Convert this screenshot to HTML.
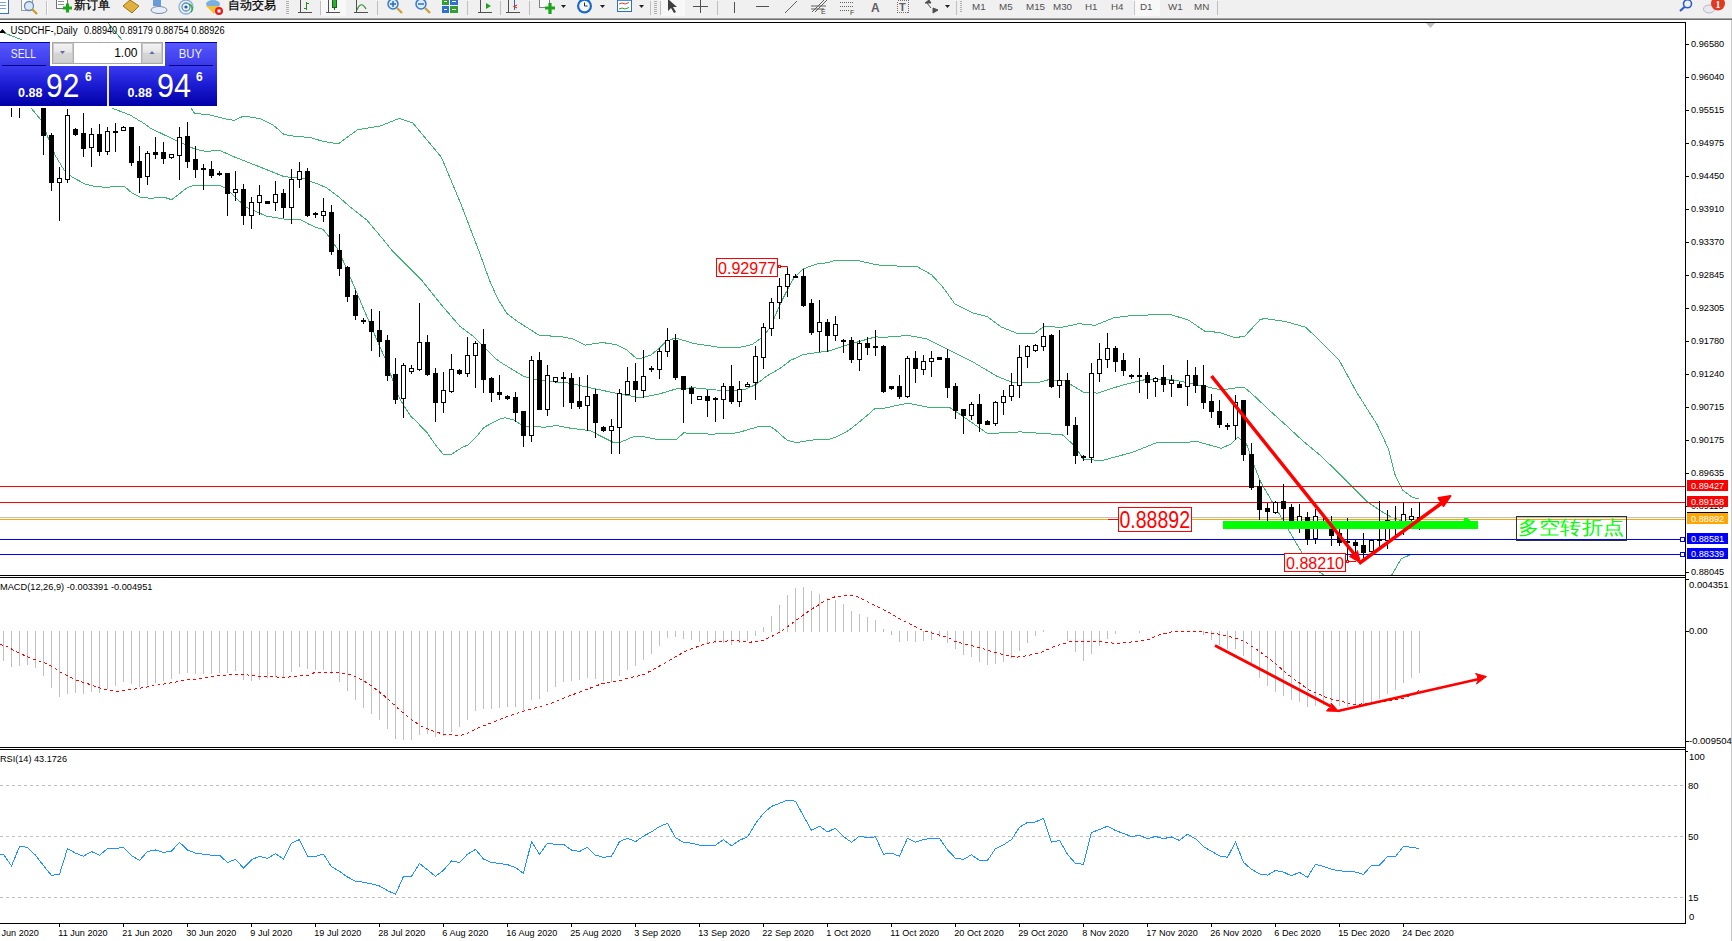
<!DOCTYPE html>
<html><head><meta charset="utf-8"><style>
html,body{margin:0;padding:0;background:#fff;width:1732px;height:941px;overflow:hidden;font-family:"Liberation Sans",sans-serif}
#tb{position:absolute;left:0;top:0;width:1732px;height:18px;background:#f0f0f0;border-bottom:1px solid #a4a4a4}
#tb2{position:absolute;left:0;top:19px;width:1732px;height:1px;background:#6d6d6d}
svg{position:absolute;left:0;top:0}
#panel{position:absolute;left:0;top:42px;width:217px;height:64px}
</style></head><body>
<svg width="1732" height="941" viewBox="0 0 1732 941">
<defs><clipPath id="cm"><rect x="0" y="23" width="1685" height="552"/></clipPath><clipPath id="cd"><rect x="0" y="578" width="1685" height="169"/></clipPath><clipPath id="cr"><rect x="0" y="750" width="1685" height="173"/></clipPath></defs>
<g clip-path="url(#cm)">
<polyline points="98.0,12.0 108.0,23.0 122.0,40.0 191.0,108.0 194.6,113.4 209.5,114.9 227.4,119.3 234.0,120.4 243.8,116.0 260.0,118.6 273.5,125.3 284.0,134.5 294.3,136.2 310.0,137.5 323.0,141.3 338.2,144.0 357.4,129.8 380.3,126.0 399.4,118.4 412.8,123.0 441.5,157.4 460.6,203.3 479.7,253.0 489.3,280.0 495.0,292.8 498.5,300.0 507.0,313.6 517.2,321.3 539.3,335.4 561.4,336.6 573.3,339.1 585.2,345.1 602.2,342.5 615.9,344.6 626.0,349.3 636.3,358.3 640.0,358.3 643.4,357.7 650.8,355.1 658.3,349.1 665.7,342.0 673.2,338.7 679.1,339.0 694.0,343.5 719.3,347.3 740.1,347.3 752.0,344.6 759.5,339.4 769.9,328.3 780.0,304.5 786.5,291.6 794.2,277.3 803.7,268.7 817.1,263.9 828.6,262.6 836.2,260.0 855.4,260.0 872.6,263.9 880.0,265.2 894.0,265.9 917.4,266.8 931.4,274.6 943.1,287.4 954.8,303.8 973.5,313.1 987.6,316.7 1001.6,327.2 1018.0,333.7 1034.4,333.7 1043.7,326.7 1062.4,327.2 1078.8,323.7 1095.2,325.3 1113.9,317.8 1132.6,315.5 1170.0,314.3 1188.7,320.2 1205.0,331.4 1219.1,332.3 1235.5,337.7 1244.8,336.1 1260.0,319.7 1264.4,318.5 1285.2,321.4 1306.0,327.4 1338.8,359.5 1356.7,392.3 1377.1,424.6 1388.3,448.6 1394.7,474.0 1402.6,490.0 1412.2,497.2 1418.6,498.8" fill="none" stroke="#3cb371" stroke-width="1" shape-rendering="crispEdges"/>
<polyline points="0.0,31.5 4.8,33.2 20.8,39.4 60.0,75.0 111.6,108.0 130.0,115.0 145.0,124.0 150.0,128.0 173.8,139.4 194.6,149.0 205.0,151.3 220.0,150.6 233.3,156.5 254.2,164.7 284.0,176.6 304.8,178.9 309.0,180.8 319.3,184.5 326.8,188.0 337.2,195.7 350.6,207.3 367.0,220.2 383.3,239.6 392.2,250.7 421.5,280.0 440.6,303.9 459.8,326.2 472.5,335.8 486.9,350.1 495.0,358.1 500.2,362.1 524.0,376.5 534.2,379.1 546.1,381.3 571.6,383.3 585.2,386.7 615.9,393.2 640.0,397.8 659.8,393.8 677.6,388.5 694.0,387.8 716.3,390.0 734.2,390.5 746.1,389.0 756.5,384.1 766.9,375.9 780.0,368.5 790.3,360.5 803.7,354.4 828.6,351.0 847.7,344.8 876.4,336.6 880.0,337.7 908.0,335.4 926.8,338.9 947.8,349.4 973.5,362.3 996.9,376.3 1013.3,382.8 1036.7,382.8 1048.4,379.8 1064.8,381.0 1083.5,392.2 1097.5,393.1 1120.9,385.6 1144.3,379.8 1170.0,379.1 1195.7,384.5 1221.4,389.9 1235.5,388.0 1244.8,387.7 1254.3,396.0 1270.3,411.1 1286.2,425.4 1302.2,440.3 1319.7,454.9 1335.7,470.1 1351.6,486.0 1367.6,502.0 1380.3,510.7 1391.5,517.1 1419.0,527.0" fill="none" stroke="#3cb371" stroke-width="1" shape-rendering="crispEdges"/>
<polyline points="0.0,70.0 31.0,108.0 41.0,120.0 55.0,155.0 64.0,170.0 72.0,177.0 85.0,184.0 93.0,186.0 107.0,187.6 115.0,186.0 125.0,187.0 132.0,193.0 140.0,197.0 150.0,198.2 164.9,197.5 171.6,199.7 187.2,187.8 194.6,185.1 220.0,185.6 227.4,189.3 245.2,206.8 266.0,216.0 284.0,219.0 300.3,219.8 310.0,224.7 316.4,227.7 323.0,229.2 328.3,235.9 338.7,250.7 344.6,264.1 351.4,280.0 368.9,321.4 384.9,358.1 397.9,395.1 403.6,405.4 411.3,416.9 415.1,420.2 427.5,433.2 435.2,444.6 443.3,454.4 451.5,454.4 462.0,447.5 467.7,445.1 475.4,437.9 484.0,427.4 494.5,421.7 499.3,419.3 505.0,417.8 513.8,419.9 524.0,426.7 534.2,426.7 544.4,427.2 556.3,425.5 571.6,428.4 590.3,430.6 600.5,436.0 612.4,442.0 621.0,442.0 632.9,436.9 640.0,436.0 659.8,439.9 676.1,439.9 683.6,432.9 711.8,434.2 737.1,432.9 758.0,426.8 770.0,426.5 774.5,429.2 787.3,440.4 796.3,442.5 815.0,439.7 828.6,439.5 835.3,437.4 845.1,432.6 850.3,429.2 863.8,418.3 875.1,408.4 880.0,409.0 908.0,403.2 931.4,407.9 950.2,407.9 964.2,417.2 987.6,433.6 1020.3,431.9 1062.4,434.8 1074.1,445.3 1083.5,459.3 1102.2,460.5 1132.6,452.3 1156.0,442.9 1198.0,441.8 1221.4,448.3 1230.8,444.1 1237.8,437.1 1246.4,443.8 1254.3,466.1 1260.7,482.0 1271.9,501.2 1283.0,520.3 1302.0,553.0 1318.0,571.0 1322.5,574.0 1325.0,577.0" fill="none" stroke="#3cb371" stroke-width="1" shape-rendering="crispEdges"/>
<polyline points="1391.2,576.0 1401.3,558.7 1411.0,554.5" fill="none" stroke="#3cb371" stroke-width="1" shape-rendering="crispEdges"/>
<g shape-rendering="crispEdges">
<rect x="0" y="486" width="1685" height="1" fill="#ff0000"/>
<rect x="0" y="502" width="1685" height="1" fill="#ff0000"/>
<rect x="0" y="517" width="1685" height="1" fill="#c0c0c0"/>
<rect x="0" y="519" width="1685" height="1" fill="#ffa500"/>
<rect x="0" y="539" width="1685" height="1" fill="#0000ff"/>
<rect x="0" y="554" width="1685" height="1" fill="#0000ff"/>
<rect x="1680.5" y="537.5" width="4" height="4" fill="#fff" stroke="#0000ff" stroke-width="1"/>
<rect x="1680.5" y="552.5" width="4" height="4" fill="#fff" stroke="#0000ff" stroke-width="1"/>
</g>
<g shape-rendering="crispEdges">
<rect x="11" y="80" width="1" height="37" fill="#000"/>
<rect x="9" y="80" width="5" height="6" fill="#000"/>
<rect x="19" y="80" width="1" height="38" fill="#000"/>
<rect x="17" y="80" width="5" height="6" fill="#000"/>
<rect x="43" y="100" width="1" height="55" fill="#000"/>
<rect x="41" y="100" width="5" height="36" fill="#000"/>
<rect x="51" y="133" width="1" height="58" fill="#000"/>
<rect x="49" y="135" width="5" height="48" fill="#000"/>
<rect x="59" y="167" width="1" height="54" fill="#000"/>
<rect x="57" y="178" width="5" height="5" fill="#000"/>
<rect x="58" y="179" width="3" height="3" fill="#fff"/>
<rect x="67" y="109" width="1" height="74" fill="#000"/>
<rect x="65" y="115" width="5" height="65" fill="#000"/>
<rect x="66" y="116" width="3" height="63" fill="#fff"/>
<rect x="75" y="128" width="1" height="8" fill="#000"/>
<rect x="73" y="129" width="5" height="6" fill="#000"/>
<rect x="83" y="113" width="1" height="44" fill="#000"/>
<rect x="81" y="133" width="5" height="16" fill="#000"/>
<rect x="91" y="128" width="1" height="39" fill="#000"/>
<rect x="89" y="134" width="5" height="14" fill="#000"/>
<rect x="90" y="135" width="3" height="12" fill="#fff"/>
<rect x="99" y="124" width="1" height="32" fill="#000"/>
<rect x="97" y="134" width="5" height="18" fill="#000"/>
<rect x="107" y="127" width="1" height="28" fill="#000"/>
<rect x="105" y="131" width="5" height="21" fill="#000"/>
<rect x="106" y="132" width="3" height="19" fill="#fff"/>
<rect x="115" y="123" width="1" height="29" fill="#000"/>
<rect x="113" y="131" width="5" height="2" fill="#000"/>
<rect x="123" y="126" width="1" height="5" fill="#000"/>
<rect x="121" y="127" width="5" height="4" fill="#000"/>
<rect x="122" y="128" width="3" height="2" fill="#fff"/>
<rect x="131" y="127" width="1" height="39" fill="#000"/>
<rect x="129" y="127" width="5" height="36" fill="#000"/>
<rect x="139" y="146" width="1" height="47" fill="#000"/>
<rect x="137" y="161" width="5" height="17" fill="#000"/>
<rect x="147" y="151" width="1" height="34" fill="#000"/>
<rect x="145" y="153" width="5" height="24" fill="#000"/>
<rect x="146" y="154" width="3" height="22" fill="#fff"/>
<rect x="155" y="137" width="1" height="22" fill="#000"/>
<rect x="153" y="152" width="5" height="3" fill="#000"/>
<rect x="163" y="142" width="1" height="22" fill="#000"/>
<rect x="161" y="152" width="5" height="7" fill="#000"/>
<rect x="171" y="154" width="1" height="5" fill="#000"/>
<rect x="169" y="154" width="5" height="4" fill="#000"/>
<rect x="170" y="155" width="3" height="2" fill="#fff"/>
<rect x="179" y="127" width="1" height="53" fill="#000"/>
<rect x="177" y="137" width="5" height="19" fill="#000"/>
<rect x="178" y="138" width="3" height="17" fill="#fff"/>
<rect x="187" y="122" width="1" height="46" fill="#000"/>
<rect x="185" y="136" width="5" height="26" fill="#000"/>
<rect x="195" y="146" width="1" height="32" fill="#000"/>
<rect x="193" y="159" width="5" height="11" fill="#000"/>
<rect x="203" y="164" width="1" height="26" fill="#000"/>
<rect x="201" y="168" width="5" height="2" fill="#000"/>
<rect x="211" y="161" width="1" height="17" fill="#000"/>
<rect x="209" y="169" width="5" height="7" fill="#000"/>
<rect x="219" y="171" width="1" height="5" fill="#000"/>
<rect x="217" y="173" width="5" height="2" fill="#000"/>
<rect x="227" y="173" width="1" height="43" fill="#000"/>
<rect x="225" y="173" width="5" height="21" fill="#000"/>
<rect x="235" y="171" width="1" height="30" fill="#000"/>
<rect x="233" y="189" width="5" height="4" fill="#000"/>
<rect x="234" y="190" width="3" height="2" fill="#fff"/>
<rect x="243" y="184" width="1" height="41" fill="#000"/>
<rect x="241" y="189" width="5" height="27" fill="#000"/>
<rect x="251" y="197" width="1" height="32" fill="#000"/>
<rect x="249" y="202" width="5" height="14" fill="#000"/>
<rect x="250" y="203" width="3" height="12" fill="#fff"/>
<rect x="259" y="185" width="1" height="30" fill="#000"/>
<rect x="257" y="195" width="5" height="8" fill="#000"/>
<rect x="258" y="196" width="3" height="6" fill="#fff"/>
<rect x="267" y="201" width="1" height="3" fill="#000"/>
<rect x="265" y="201" width="5" height="3" fill="#000"/>
<rect x="275" y="181" width="1" height="30" fill="#000"/>
<rect x="273" y="194" width="5" height="9" fill="#000"/>
<rect x="274" y="195" width="3" height="7" fill="#fff"/>
<rect x="283" y="189" width="1" height="29" fill="#000"/>
<rect x="281" y="193" width="5" height="15" fill="#000"/>
<rect x="291" y="169" width="1" height="55" fill="#000"/>
<rect x="289" y="179" width="5" height="29" fill="#000"/>
<rect x="290" y="180" width="3" height="27" fill="#fff"/>
<rect x="299" y="162" width="1" height="26" fill="#000"/>
<rect x="297" y="171" width="5" height="9" fill="#000"/>
<rect x="298" y="172" width="3" height="7" fill="#fff"/>
<rect x="307" y="168" width="1" height="49" fill="#000"/>
<rect x="305" y="171" width="5" height="45" fill="#000"/>
<rect x="315" y="212" width="1" height="6" fill="#000"/>
<rect x="313" y="213" width="5" height="2" fill="#000"/>
<rect x="323" y="198" width="1" height="24" fill="#000"/>
<rect x="321" y="211" width="5" height="5" fill="#000"/>
<rect x="322" y="212" width="3" height="3" fill="#fff"/>
<rect x="331" y="205" width="1" height="50" fill="#000"/>
<rect x="329" y="212" width="5" height="40" fill="#000"/>
<rect x="339" y="234" width="1" height="42" fill="#000"/>
<rect x="337" y="250" width="5" height="19" fill="#000"/>
<rect x="347" y="266" width="1" height="36" fill="#000"/>
<rect x="345" y="267" width="5" height="30" fill="#000"/>
<rect x="355" y="290" width="1" height="30" fill="#000"/>
<rect x="353" y="295" width="5" height="21" fill="#000"/>
<rect x="363" y="318" width="1" height="6" fill="#000"/>
<rect x="361" y="320" width="5" height="2" fill="#000"/>
<rect x="371" y="309" width="1" height="42" fill="#000"/>
<rect x="369" y="321" width="5" height="11" fill="#000"/>
<rect x="379" y="311" width="1" height="46" fill="#000"/>
<rect x="377" y="330" width="5" height="12" fill="#000"/>
<rect x="387" y="335" width="1" height="46" fill="#000"/>
<rect x="385" y="340" width="5" height="36" fill="#000"/>
<rect x="395" y="358" width="1" height="46" fill="#000"/>
<rect x="393" y="374" width="5" height="26" fill="#000"/>
<rect x="403" y="363" width="1" height="55" fill="#000"/>
<rect x="401" y="365" width="5" height="34" fill="#000"/>
<rect x="402" y="366" width="3" height="32" fill="#fff"/>
<rect x="411" y="365" width="1" height="9" fill="#000"/>
<rect x="409" y="368" width="5" height="4" fill="#000"/>
<rect x="410" y="369" width="3" height="2" fill="#fff"/>
<rect x="419" y="303" width="1" height="68" fill="#000"/>
<rect x="417" y="342" width="5" height="28" fill="#000"/>
<rect x="418" y="343" width="3" height="26" fill="#fff"/>
<rect x="427" y="335" width="1" height="41" fill="#000"/>
<rect x="425" y="342" width="5" height="33" fill="#000"/>
<rect x="435" y="368" width="1" height="54" fill="#000"/>
<rect x="433" y="373" width="5" height="30" fill="#000"/>
<rect x="443" y="372" width="1" height="41" fill="#000"/>
<rect x="441" y="390" width="5" height="13" fill="#000"/>
<rect x="442" y="391" width="3" height="11" fill="#fff"/>
<rect x="451" y="354" width="1" height="39" fill="#000"/>
<rect x="449" y="369" width="5" height="23" fill="#000"/>
<rect x="450" y="370" width="3" height="21" fill="#fff"/>
<rect x="459" y="369" width="1" height="6" fill="#000"/>
<rect x="457" y="370" width="5" height="4" fill="#000"/>
<rect x="467" y="337" width="1" height="40" fill="#000"/>
<rect x="465" y="355" width="5" height="19" fill="#000"/>
<rect x="466" y="356" width="3" height="17" fill="#fff"/>
<rect x="475" y="341" width="1" height="47" fill="#000"/>
<rect x="473" y="343" width="5" height="13" fill="#000"/>
<rect x="474" y="344" width="3" height="11" fill="#fff"/>
<rect x="483" y="329" width="1" height="64" fill="#000"/>
<rect x="481" y="344" width="5" height="36" fill="#000"/>
<rect x="491" y="377" width="1" height="25" fill="#000"/>
<rect x="489" y="378" width="5" height="15" fill="#000"/>
<rect x="499" y="375" width="1" height="25" fill="#000"/>
<rect x="497" y="392" width="5" height="3" fill="#000"/>
<rect x="507" y="395" width="1" height="5" fill="#000"/>
<rect x="505" y="396" width="5" height="3" fill="#000"/>
<rect x="515" y="392" width="1" height="30" fill="#000"/>
<rect x="513" y="397" width="5" height="16" fill="#000"/>
<rect x="523" y="411" width="1" height="36" fill="#000"/>
<rect x="521" y="411" width="5" height="25" fill="#000"/>
<rect x="531" y="356" width="1" height="86" fill="#000"/>
<rect x="529" y="360" width="5" height="76" fill="#000"/>
<rect x="530" y="361" width="3" height="74" fill="#fff"/>
<rect x="539" y="352" width="1" height="58" fill="#000"/>
<rect x="537" y="360" width="5" height="50" fill="#000"/>
<rect x="547" y="365" width="1" height="51" fill="#000"/>
<rect x="545" y="375" width="5" height="35" fill="#000"/>
<rect x="546" y="376" width="3" height="33" fill="#fff"/>
<rect x="555" y="377" width="1" height="6" fill="#000"/>
<rect x="553" y="377" width="5" height="5" fill="#000"/>
<rect x="554" y="378" width="3" height="3" fill="#fff"/>
<rect x="563" y="372" width="1" height="35" fill="#000"/>
<rect x="561" y="377" width="5" height="2" fill="#000"/>
<rect x="571" y="373" width="1" height="36" fill="#000"/>
<rect x="569" y="378" width="5" height="25" fill="#000"/>
<rect x="579" y="377" width="1" height="32" fill="#000"/>
<rect x="577" y="401" width="5" height="6" fill="#000"/>
<rect x="587" y="375" width="1" height="56" fill="#000"/>
<rect x="585" y="396" width="5" height="10" fill="#000"/>
<rect x="586" y="397" width="3" height="8" fill="#fff"/>
<rect x="595" y="389" width="1" height="49" fill="#000"/>
<rect x="593" y="394" width="5" height="29" fill="#000"/>
<rect x="603" y="426" width="1" height="6" fill="#000"/>
<rect x="601" y="427" width="5" height="4" fill="#000"/>
<rect x="611" y="419" width="1" height="35" fill="#000"/>
<rect x="609" y="426" width="5" height="5" fill="#000"/>
<rect x="610" y="427" width="3" height="3" fill="#fff"/>
<rect x="619" y="389" width="1" height="65" fill="#000"/>
<rect x="617" y="393" width="5" height="35" fill="#000"/>
<rect x="618" y="394" width="3" height="33" fill="#fff"/>
<rect x="627" y="367" width="1" height="28" fill="#000"/>
<rect x="625" y="381" width="5" height="14" fill="#000"/>
<rect x="626" y="382" width="3" height="12" fill="#fff"/>
<rect x="635" y="363" width="1" height="39" fill="#000"/>
<rect x="633" y="381" width="5" height="9" fill="#000"/>
<rect x="643" y="350" width="1" height="48" fill="#000"/>
<rect x="641" y="376" width="5" height="15" fill="#000"/>
<rect x="642" y="377" width="3" height="13" fill="#fff"/>
<rect x="651" y="366" width="1" height="6" fill="#000"/>
<rect x="649" y="368" width="5" height="2" fill="#000"/>
<rect x="659" y="348" width="1" height="31" fill="#000"/>
<rect x="657" y="351" width="5" height="19" fill="#000"/>
<rect x="658" y="352" width="3" height="17" fill="#fff"/>
<rect x="667" y="328" width="1" height="29" fill="#000"/>
<rect x="665" y="340" width="5" height="12" fill="#000"/>
<rect x="666" y="341" width="3" height="10" fill="#fff"/>
<rect x="675" y="334" width="1" height="46" fill="#000"/>
<rect x="673" y="340" width="5" height="38" fill="#000"/>
<rect x="683" y="376" width="1" height="47" fill="#000"/>
<rect x="681" y="376" width="5" height="14" fill="#000"/>
<rect x="691" y="386" width="1" height="18" fill="#000"/>
<rect x="689" y="388" width="5" height="6" fill="#000"/>
<rect x="699" y="396" width="1" height="4" fill="#000"/>
<rect x="697" y="396" width="5" height="4" fill="#000"/>
<rect x="698" y="397" width="3" height="2" fill="#fff"/>
<rect x="707" y="390" width="1" height="27" fill="#000"/>
<rect x="705" y="396" width="5" height="5" fill="#000"/>
<rect x="715" y="397" width="1" height="25" fill="#000"/>
<rect x="713" y="398" width="5" height="2" fill="#000"/>
<rect x="723" y="383" width="1" height="36" fill="#000"/>
<rect x="721" y="386" width="5" height="14" fill="#000"/>
<rect x="722" y="387" width="3" height="12" fill="#fff"/>
<rect x="731" y="365" width="1" height="39" fill="#000"/>
<rect x="729" y="386" width="5" height="16" fill="#000"/>
<rect x="739" y="381" width="1" height="26" fill="#000"/>
<rect x="737" y="389" width="5" height="13" fill="#000"/>
<rect x="738" y="390" width="3" height="11" fill="#fff"/>
<rect x="747" y="382" width="1" height="5" fill="#000"/>
<rect x="745" y="384" width="5" height="3" fill="#000"/>
<rect x="746" y="385" width="3" height="1" fill="#fff"/>
<rect x="755" y="346" width="1" height="54" fill="#000"/>
<rect x="753" y="356" width="5" height="27" fill="#000"/>
<rect x="754" y="357" width="3" height="25" fill="#fff"/>
<rect x="763" y="323" width="1" height="46" fill="#000"/>
<rect x="761" y="327" width="5" height="31" fill="#000"/>
<rect x="762" y="328" width="3" height="29" fill="#fff"/>
<rect x="771" y="298" width="1" height="38" fill="#000"/>
<rect x="769" y="302" width="5" height="27" fill="#000"/>
<rect x="770" y="303" width="3" height="25" fill="#fff"/>
<rect x="779" y="278" width="1" height="41" fill="#000"/>
<rect x="777" y="286" width="5" height="17" fill="#000"/>
<rect x="778" y="287" width="3" height="15" fill="#fff"/>
<rect x="787" y="268" width="1" height="29" fill="#000"/>
<rect x="785" y="274" width="5" height="13" fill="#000"/>
<rect x="786" y="275" width="3" height="11" fill="#fff"/>
<rect x="795" y="274" width="1" height="4" fill="#000"/>
<rect x="793" y="276" width="5" height="2" fill="#000"/>
<rect x="803" y="269" width="1" height="38" fill="#000"/>
<rect x="801" y="276" width="5" height="30" fill="#000"/>
<rect x="811" y="299" width="1" height="36" fill="#000"/>
<rect x="809" y="303" width="5" height="30" fill="#000"/>
<rect x="819" y="300" width="1" height="52" fill="#000"/>
<rect x="817" y="322" width="5" height="10" fill="#000"/>
<rect x="818" y="323" width="3" height="8" fill="#fff"/>
<rect x="827" y="319" width="1" height="33" fill="#000"/>
<rect x="825" y="322" width="5" height="14" fill="#000"/>
<rect x="835" y="316" width="1" height="25" fill="#000"/>
<rect x="833" y="324" width="5" height="12" fill="#000"/>
<rect x="834" y="325" width="3" height="10" fill="#fff"/>
<rect x="843" y="339" width="1" height="14" fill="#000"/>
<rect x="841" y="340" width="5" height="2" fill="#000"/>
<rect x="851" y="337" width="1" height="26" fill="#000"/>
<rect x="849" y="340" width="5" height="20" fill="#000"/>
<rect x="859" y="340" width="1" height="31" fill="#000"/>
<rect x="857" y="343" width="5" height="17" fill="#000"/>
<rect x="858" y="344" width="3" height="15" fill="#fff"/>
<rect x="867" y="337" width="1" height="18" fill="#000"/>
<rect x="865" y="343" width="5" height="5" fill="#000"/>
<rect x="875" y="330" width="1" height="26" fill="#000"/>
<rect x="873" y="346" width="5" height="2" fill="#000"/>
<rect x="883" y="345" width="1" height="48" fill="#000"/>
<rect x="881" y="346" width="5" height="46" fill="#000"/>
<rect x="891" y="386" width="1" height="4" fill="#000"/>
<rect x="889" y="386" width="5" height="3" fill="#000"/>
<rect x="899" y="375" width="1" height="24" fill="#000"/>
<rect x="897" y="386" width="5" height="11" fill="#000"/>
<rect x="907" y="356" width="1" height="42" fill="#000"/>
<rect x="905" y="358" width="5" height="39" fill="#000"/>
<rect x="906" y="359" width="3" height="37" fill="#fff"/>
<rect x="915" y="351" width="1" height="32" fill="#000"/>
<rect x="913" y="358" width="5" height="11" fill="#000"/>
<rect x="923" y="355" width="1" height="20" fill="#000"/>
<rect x="921" y="361" width="5" height="9" fill="#000"/>
<rect x="922" y="362" width="3" height="7" fill="#fff"/>
<rect x="931" y="351" width="1" height="26" fill="#000"/>
<rect x="929" y="358" width="5" height="4" fill="#000"/>
<rect x="930" y="359" width="3" height="2" fill="#fff"/>
<rect x="939" y="357" width="1" height="3" fill="#000"/>
<rect x="937" y="357" width="5" height="3" fill="#000"/>
<rect x="947" y="349" width="1" height="49" fill="#000"/>
<rect x="945" y="358" width="5" height="30" fill="#000"/>
<rect x="955" y="383" width="1" height="36" fill="#000"/>
<rect x="953" y="386" width="5" height="25" fill="#000"/>
<rect x="963" y="409" width="1" height="25" fill="#000"/>
<rect x="961" y="409" width="5" height="7" fill="#000"/>
<rect x="971" y="402" width="1" height="18" fill="#000"/>
<rect x="969" y="404" width="5" height="12" fill="#000"/>
<rect x="970" y="405" width="3" height="10" fill="#fff"/>
<rect x="979" y="394" width="1" height="38" fill="#000"/>
<rect x="977" y="404" width="5" height="20" fill="#000"/>
<rect x="987" y="420" width="1" height="5" fill="#000"/>
<rect x="985" y="421" width="5" height="4" fill="#000"/>
<rect x="995" y="401" width="1" height="25" fill="#000"/>
<rect x="993" y="402" width="5" height="22" fill="#000"/>
<rect x="994" y="403" width="3" height="20" fill="#fff"/>
<rect x="1003" y="390" width="1" height="25" fill="#000"/>
<rect x="1001" y="396" width="5" height="7" fill="#000"/>
<rect x="1002" y="397" width="3" height="5" fill="#fff"/>
<rect x="1011" y="373" width="1" height="28" fill="#000"/>
<rect x="1009" y="385" width="5" height="12" fill="#000"/>
<rect x="1010" y="386" width="3" height="10" fill="#fff"/>
<rect x="1019" y="345" width="1" height="53" fill="#000"/>
<rect x="1017" y="357" width="5" height="29" fill="#000"/>
<rect x="1018" y="358" width="3" height="27" fill="#fff"/>
<rect x="1027" y="345" width="1" height="23" fill="#000"/>
<rect x="1025" y="346" width="5" height="11" fill="#000"/>
<rect x="1026" y="347" width="3" height="9" fill="#fff"/>
<rect x="1035" y="344" width="1" height="8" fill="#000"/>
<rect x="1033" y="345" width="5" height="6" fill="#000"/>
<rect x="1034" y="346" width="3" height="4" fill="#fff"/>
<rect x="1043" y="323" width="1" height="28" fill="#000"/>
<rect x="1041" y="336" width="5" height="11" fill="#000"/>
<rect x="1042" y="337" width="3" height="9" fill="#fff"/>
<rect x="1051" y="334" width="1" height="54" fill="#000"/>
<rect x="1049" y="335" width="5" height="52" fill="#000"/>
<rect x="1059" y="330" width="1" height="68" fill="#000"/>
<rect x="1057" y="380" width="5" height="6" fill="#000"/>
<rect x="1058" y="381" width="3" height="4" fill="#fff"/>
<rect x="1067" y="373" width="1" height="62" fill="#000"/>
<rect x="1065" y="380" width="5" height="46" fill="#000"/>
<rect x="1075" y="417" width="1" height="47" fill="#000"/>
<rect x="1073" y="425" width="5" height="31" fill="#000"/>
<rect x="1083" y="455" width="1" height="6" fill="#000"/>
<rect x="1081" y="456" width="5" height="2" fill="#000"/>
<rect x="1091" y="363" width="1" height="100" fill="#000"/>
<rect x="1089" y="373" width="5" height="85" fill="#000"/>
<rect x="1090" y="374" width="3" height="83" fill="#fff"/>
<rect x="1099" y="343" width="1" height="39" fill="#000"/>
<rect x="1097" y="359" width="5" height="15" fill="#000"/>
<rect x="1098" y="360" width="3" height="13" fill="#fff"/>
<rect x="1107" y="333" width="1" height="35" fill="#000"/>
<rect x="1105" y="348" width="5" height="12" fill="#000"/>
<rect x="1106" y="349" width="3" height="10" fill="#fff"/>
<rect x="1115" y="346" width="1" height="26" fill="#000"/>
<rect x="1113" y="348" width="5" height="14" fill="#000"/>
<rect x="1123" y="353" width="1" height="23" fill="#000"/>
<rect x="1121" y="360" width="5" height="11" fill="#000"/>
<rect x="1131" y="374" width="1" height="5" fill="#000"/>
<rect x="1129" y="375" width="5" height="2" fill="#000"/>
<rect x="1139" y="358" width="1" height="35" fill="#000"/>
<rect x="1137" y="375" width="5" height="2" fill="#000"/>
<rect x="1147" y="372" width="1" height="27" fill="#000"/>
<rect x="1145" y="375" width="5" height="8" fill="#000"/>
<rect x="1155" y="377" width="1" height="20" fill="#000"/>
<rect x="1153" y="378" width="5" height="4" fill="#000"/>
<rect x="1154" y="379" width="3" height="2" fill="#fff"/>
<rect x="1163" y="365" width="1" height="27" fill="#000"/>
<rect x="1161" y="377" width="5" height="8" fill="#000"/>
<rect x="1171" y="375" width="1" height="22" fill="#000"/>
<rect x="1169" y="380" width="5" height="4" fill="#000"/>
<rect x="1170" y="381" width="3" height="2" fill="#fff"/>
<rect x="1179" y="382" width="1" height="6" fill="#000"/>
<rect x="1177" y="384" width="5" height="4" fill="#000"/>
<rect x="1187" y="360" width="1" height="46" fill="#000"/>
<rect x="1185" y="375" width="5" height="12" fill="#000"/>
<rect x="1186" y="376" width="3" height="10" fill="#fff"/>
<rect x="1195" y="367" width="1" height="26" fill="#000"/>
<rect x="1193" y="375" width="5" height="11" fill="#000"/>
<rect x="1203" y="365" width="1" height="44" fill="#000"/>
<rect x="1201" y="385" width="5" height="18" fill="#000"/>
<rect x="1211" y="394" width="1" height="24" fill="#000"/>
<rect x="1209" y="401" width="5" height="11" fill="#000"/>
<rect x="1219" y="400" width="1" height="28" fill="#000"/>
<rect x="1217" y="411" width="5" height="14" fill="#000"/>
<rect x="1227" y="423" width="1" height="7" fill="#000"/>
<rect x="1225" y="425" width="5" height="2" fill="#000"/>
<rect x="1235" y="395" width="1" height="45" fill="#000"/>
<rect x="1233" y="402" width="5" height="24" fill="#000"/>
<rect x="1234" y="403" width="3" height="22" fill="#fff"/>
<rect x="1243" y="400" width="1" height="61" fill="#000"/>
<rect x="1241" y="400" width="5" height="55" fill="#000"/>
<rect x="1251" y="443" width="1" height="47" fill="#000"/>
<rect x="1249" y="454" width="5" height="34" fill="#000"/>
<rect x="1259" y="480" width="1" height="40" fill="#000"/>
<rect x="1257" y="486" width="5" height="24" fill="#000"/>
<rect x="1267" y="503" width="1" height="18" fill="#000"/>
<rect x="1265" y="508" width="5" height="4" fill="#000"/>
<rect x="1275" y="501" width="1" height="13" fill="#000"/>
<rect x="1273" y="502" width="5" height="11" fill="#000"/>
<rect x="1274" y="503" width="3" height="9" fill="#fff"/>
<rect x="1283" y="484" width="1" height="37" fill="#000"/>
<rect x="1281" y="501" width="5" height="8" fill="#000"/>
<rect x="1291" y="504" width="1" height="19" fill="#000"/>
<rect x="1289" y="507" width="5" height="15" fill="#000"/>
<rect x="1299" y="504" width="1" height="29" fill="#000"/>
<rect x="1297" y="516" width="5" height="7" fill="#000"/>
<rect x="1298" y="517" width="3" height="5" fill="#fff"/>
<rect x="1307" y="512" width="1" height="33" fill="#000"/>
<rect x="1305" y="517" width="5" height="23" fill="#000"/>
<rect x="1315" y="509" width="1" height="35" fill="#000"/>
<rect x="1313" y="516" width="5" height="23" fill="#000"/>
<rect x="1314" y="517" width="3" height="21" fill="#fff"/>
<rect x="1323" y="518" width="1" height="11" fill="#000"/>
<rect x="1321" y="522" width="5" height="5" fill="#000"/>
<rect x="1331" y="516" width="1" height="30" fill="#000"/>
<rect x="1329" y="526" width="5" height="10" fill="#000"/>
<rect x="1339" y="528" width="1" height="18" fill="#000"/>
<rect x="1337" y="533" width="5" height="10" fill="#000"/>
<rect x="1347" y="518" width="1" height="43" fill="#000"/>
<rect x="1345" y="541" width="5" height="2" fill="#000"/>
<rect x="1355" y="540" width="1" height="15" fill="#000"/>
<rect x="1353" y="542" width="5" height="4" fill="#000"/>
<rect x="1363" y="533" width="1" height="26" fill="#000"/>
<rect x="1361" y="545" width="5" height="8" fill="#000"/>
<rect x="1371" y="540" width="1" height="12" fill="#000"/>
<rect x="1369" y="540" width="5" height="12" fill="#000"/>
<rect x="1370" y="541" width="3" height="10" fill="#fff"/>
<rect x="1379" y="501" width="1" height="47" fill="#000"/>
<rect x="1377" y="539" width="5" height="2" fill="#000"/>
<rect x="1387" y="510" width="1" height="39" fill="#000"/>
<rect x="1385" y="520" width="5" height="21" fill="#000"/>
<rect x="1386" y="521" width="3" height="19" fill="#fff"/>
<rect x="1395" y="506" width="1" height="29" fill="#000"/>
<rect x="1393" y="522" width="5" height="6" fill="#000"/>
<rect x="1394" y="523" width="3" height="4" fill="#fff"/>
<rect x="1403" y="502" width="1" height="33" fill="#000"/>
<rect x="1401" y="514" width="5" height="9" fill="#000"/>
<rect x="1402" y="515" width="3" height="7" fill="#fff"/>
<rect x="1411" y="508" width="1" height="14" fill="#000"/>
<rect x="1409" y="516" width="5" height="4" fill="#000"/>
<rect x="1410" y="517" width="3" height="2" fill="#fff"/>
<rect x="1419" y="502" width="1" height="28" fill="#000"/>
<rect x="1417" y="517" width="5" height="2" fill="#000"/>
</g>
</g>
<g clip-path="url(#cd)" shape-rendering="crispEdges">
<rect x="3" y="631" width="1" height="30" fill="#c0c0c0"/>
<rect x="11" y="631" width="1" height="36" fill="#c0c0c0"/>
<rect x="19" y="631" width="1" height="35" fill="#c0c0c0"/>
<rect x="27" y="631" width="1" height="34" fill="#c0c0c0"/>
<rect x="35" y="631" width="1" height="37" fill="#c0c0c0"/>
<rect x="43" y="631" width="1" height="45" fill="#c0c0c0"/>
<rect x="51" y="631" width="1" height="57" fill="#c0c0c0"/>
<rect x="59" y="631" width="1" height="66" fill="#c0c0c0"/>
<rect x="67" y="631" width="1" height="63" fill="#c0c0c0"/>
<rect x="75" y="631" width="1" height="62" fill="#c0c0c0"/>
<rect x="83" y="631" width="1" height="63" fill="#c0c0c0"/>
<rect x="91" y="631" width="1" height="61" fill="#c0c0c0"/>
<rect x="99" y="631" width="1" height="62" fill="#c0c0c0"/>
<rect x="107" y="631" width="1" height="58" fill="#c0c0c0"/>
<rect x="115" y="631" width="1" height="55" fill="#c0c0c0"/>
<rect x="123" y="631" width="1" height="51" fill="#c0c0c0"/>
<rect x="131" y="631" width="1" height="53" fill="#c0c0c0"/>
<rect x="139" y="631" width="1" height="56" fill="#c0c0c0"/>
<rect x="147" y="631" width="1" height="54" fill="#c0c0c0"/>
<rect x="155" y="631" width="1" height="52" fill="#c0c0c0"/>
<rect x="163" y="631" width="1" height="50" fill="#c0c0c0"/>
<rect x="171" y="631" width="1" height="48" fill="#c0c0c0"/>
<rect x="179" y="631" width="1" height="43" fill="#c0c0c0"/>
<rect x="187" y="631" width="1" height="42" fill="#c0c0c0"/>
<rect x="195" y="631" width="1" height="43" fill="#c0c0c0"/>
<rect x="203" y="631" width="1" height="43" fill="#c0c0c0"/>
<rect x="211" y="631" width="1" height="43" fill="#c0c0c0"/>
<rect x="219" y="631" width="1" height="42" fill="#c0c0c0"/>
<rect x="227" y="631" width="1" height="42" fill="#c0c0c0"/>
<rect x="235" y="631" width="1" height="40" fill="#c0c0c0"/>
<rect x="243" y="631" width="1" height="49" fill="#c0c0c0"/>
<rect x="251" y="631" width="1" height="50" fill="#c0c0c0"/>
<rect x="259" y="631" width="1" height="49" fill="#c0c0c0"/>
<rect x="267" y="631" width="1" height="47" fill="#c0c0c0"/>
<rect x="275" y="631" width="1" height="46" fill="#c0c0c0"/>
<rect x="283" y="631" width="1" height="46" fill="#c0c0c0"/>
<rect x="291" y="631" width="1" height="41" fill="#c0c0c0"/>
<rect x="299" y="631" width="1" height="36" fill="#c0c0c0"/>
<rect x="307" y="631" width="1" height="38" fill="#c0c0c0"/>
<rect x="315" y="631" width="1" height="39" fill="#c0c0c0"/>
<rect x="323" y="631" width="1" height="39" fill="#c0c0c0"/>
<rect x="331" y="631" width="1" height="43" fill="#c0c0c0"/>
<rect x="339" y="631" width="1" height="51" fill="#c0c0c0"/>
<rect x="347" y="631" width="1" height="60" fill="#c0c0c0"/>
<rect x="355" y="631" width="1" height="69" fill="#c0c0c0"/>
<rect x="363" y="631" width="1" height="77" fill="#c0c0c0"/>
<rect x="371" y="631" width="1" height="83" fill="#c0c0c0"/>
<rect x="379" y="631" width="1" height="89" fill="#c0c0c0"/>
<rect x="387" y="631" width="1" height="98" fill="#c0c0c0"/>
<rect x="395" y="631" width="1" height="108" fill="#c0c0c0"/>
<rect x="403" y="631" width="1" height="109" fill="#c0c0c0"/>
<rect x="411" y="631" width="1" height="109" fill="#c0c0c0"/>
<rect x="419" y="631" width="1" height="104" fill="#c0c0c0"/>
<rect x="427" y="631" width="1" height="103" fill="#c0c0c0"/>
<rect x="435" y="631" width="1" height="106" fill="#c0c0c0"/>
<rect x="443" y="631" width="1" height="105" fill="#c0c0c0"/>
<rect x="451" y="631" width="1" height="101" fill="#c0c0c0"/>
<rect x="459" y="631" width="1" height="96" fill="#c0c0c0"/>
<rect x="467" y="631" width="1" height="89" fill="#c0c0c0"/>
<rect x="475" y="631" width="1" height="80" fill="#c0c0c0"/>
<rect x="483" y="631" width="1" height="78" fill="#c0c0c0"/>
<rect x="491" y="631" width="1" height="78" fill="#c0c0c0"/>
<rect x="499" y="631" width="1" height="77" fill="#c0c0c0"/>
<rect x="507" y="631" width="1" height="76" fill="#c0c0c0"/>
<rect x="515" y="631" width="1" height="76" fill="#c0c0c0"/>
<rect x="523" y="631" width="1" height="79" fill="#c0c0c0"/>
<rect x="531" y="631" width="1" height="69" fill="#c0c0c0"/>
<rect x="539" y="631" width="1" height="68" fill="#c0c0c0"/>
<rect x="547" y="631" width="1" height="61" fill="#c0c0c0"/>
<rect x="555" y="631" width="1" height="56" fill="#c0c0c0"/>
<rect x="563" y="631" width="1" height="51" fill="#c0c0c0"/>
<rect x="571" y="631" width="1" height="50" fill="#c0c0c0"/>
<rect x="579" y="631" width="1" height="49" fill="#c0c0c0"/>
<rect x="587" y="631" width="1" height="47" fill="#c0c0c0"/>
<rect x="595" y="631" width="1" height="48" fill="#c0c0c0"/>
<rect x="603" y="631" width="1" height="50" fill="#c0c0c0"/>
<rect x="611" y="631" width="1" height="51" fill="#c0c0c0"/>
<rect x="619" y="631" width="1" height="45" fill="#c0c0c0"/>
<rect x="627" y="631" width="1" height="39" fill="#c0c0c0"/>
<rect x="635" y="631" width="1" height="35" fill="#c0c0c0"/>
<rect x="643" y="631" width="1" height="29" fill="#c0c0c0"/>
<rect x="651" y="631" width="1" height="23" fill="#c0c0c0"/>
<rect x="659" y="631" width="1" height="15" fill="#c0c0c0"/>
<rect x="667" y="631" width="1" height="7" fill="#c0c0c0"/>
<rect x="675" y="631" width="1" height="6" fill="#c0c0c0"/>
<rect x="683" y="631" width="1" height="8" fill="#c0c0c0"/>
<rect x="691" y="631" width="1" height="9" fill="#c0c0c0"/>
<rect x="699" y="631" width="1" height="11" fill="#c0c0c0"/>
<rect x="707" y="631" width="1" height="13" fill="#c0c0c0"/>
<rect x="715" y="631" width="1" height="12" fill="#c0c0c0"/>
<rect x="723" y="631" width="1" height="12" fill="#c0c0c0"/>
<rect x="731" y="631" width="1" height="14" fill="#c0c0c0"/>
<rect x="739" y="631" width="1" height="12" fill="#c0c0c0"/>
<rect x="747" y="631" width="1" height="10" fill="#c0c0c0"/>
<rect x="755" y="631" width="1" height="5" fill="#c0c0c0"/>
<rect x="763" y="627" width="1" height="5" fill="#c0c0c0"/>
<rect x="771" y="616" width="1" height="16" fill="#c0c0c0"/>
<rect x="779" y="605" width="1" height="27" fill="#c0c0c0"/>
<rect x="787" y="595" width="1" height="37" fill="#c0c0c0"/>
<rect x="795" y="588" width="1" height="44" fill="#c0c0c0"/>
<rect x="803" y="587" width="1" height="45" fill="#c0c0c0"/>
<rect x="811" y="591" width="1" height="41" fill="#c0c0c0"/>
<rect x="819" y="594" width="1" height="38" fill="#c0c0c0"/>
<rect x="827" y="598" width="1" height="34" fill="#c0c0c0"/>
<rect x="835" y="600" width="1" height="32" fill="#c0c0c0"/>
<rect x="843" y="604" width="1" height="28" fill="#c0c0c0"/>
<rect x="851" y="611" width="1" height="21" fill="#c0c0c0"/>
<rect x="859" y="614" width="1" height="18" fill="#c0c0c0"/>
<rect x="867" y="617" width="1" height="15" fill="#c0c0c0"/>
<rect x="875" y="620" width="1" height="12" fill="#c0c0c0"/>
<rect x="883" y="629" width="1" height="3" fill="#c0c0c0"/>
<rect x="891" y="631" width="1" height="4" fill="#c0c0c0"/>
<rect x="899" y="631" width="1" height="11" fill="#c0c0c0"/>
<rect x="907" y="631" width="1" height="10" fill="#c0c0c0"/>
<rect x="915" y="631" width="1" height="11" fill="#c0c0c0"/>
<rect x="923" y="631" width="1" height="10" fill="#c0c0c0"/>
<rect x="931" y="631" width="1" height="9" fill="#c0c0c0"/>
<rect x="939" y="631" width="1" height="6" fill="#c0c0c0"/>
<rect x="947" y="631" width="1" height="12" fill="#c0c0c0"/>
<rect x="955" y="631" width="1" height="18" fill="#c0c0c0"/>
<rect x="963" y="631" width="1" height="24" fill="#c0c0c0"/>
<rect x="971" y="631" width="1" height="26" fill="#c0c0c0"/>
<rect x="979" y="631" width="1" height="31" fill="#c0c0c0"/>
<rect x="987" y="631" width="1" height="34" fill="#c0c0c0"/>
<rect x="995" y="631" width="1" height="33" fill="#c0c0c0"/>
<rect x="1003" y="631" width="1" height="31" fill="#c0c0c0"/>
<rect x="1011" y="631" width="1" height="27" fill="#c0c0c0"/>
<rect x="1019" y="631" width="1" height="20" fill="#c0c0c0"/>
<rect x="1027" y="631" width="1" height="12" fill="#c0c0c0"/>
<rect x="1035" y="631" width="1" height="5" fill="#c0c0c0"/>
<rect x="1043" y="630" width="1" height="2" fill="#c0c0c0"/>
<rect x="1067" y="631" width="1" height="10" fill="#c0c0c0"/>
<rect x="1075" y="631" width="1" height="21" fill="#c0c0c0"/>
<rect x="1083" y="631" width="1" height="30" fill="#c0c0c0"/>
<rect x="1091" y="631" width="1" height="23" fill="#c0c0c0"/>
<rect x="1099" y="631" width="1" height="15" fill="#c0c0c0"/>
<rect x="1107" y="631" width="1" height="8" fill="#c0c0c0"/>
<rect x="1115" y="631" width="1" height="3" fill="#c0c0c0"/>
<rect x="1139" y="631" width="1" height="2" fill="#c0c0c0"/>
<rect x="1203" y="631" width="1" height="4" fill="#c0c0c0"/>
<rect x="1211" y="631" width="1" height="9" fill="#c0c0c0"/>
<rect x="1219" y="631" width="1" height="14" fill="#c0c0c0"/>
<rect x="1227" y="631" width="1" height="18" fill="#c0c0c0"/>
<rect x="1235" y="631" width="1" height="18" fill="#c0c0c0"/>
<rect x="1243" y="631" width="1" height="25" fill="#c0c0c0"/>
<rect x="1251" y="631" width="1" height="32" fill="#c0c0c0"/>
<rect x="1259" y="631" width="1" height="47" fill="#c0c0c0"/>
<rect x="1267" y="631" width="1" height="55" fill="#c0c0c0"/>
<rect x="1275" y="631" width="1" height="61" fill="#c0c0c0"/>
<rect x="1283" y="631" width="1" height="65" fill="#c0c0c0"/>
<rect x="1291" y="631" width="1" height="69" fill="#c0c0c0"/>
<rect x="1299" y="631" width="1" height="71" fill="#c0c0c0"/>
<rect x="1307" y="631" width="1" height="76" fill="#c0c0c0"/>
<rect x="1315" y="631" width="1" height="75" fill="#c0c0c0"/>
<rect x="1323" y="631" width="1" height="74" fill="#c0c0c0"/>
<rect x="1331" y="631" width="1" height="71" fill="#c0c0c0"/>
<rect x="1339" y="631" width="1" height="75" fill="#c0c0c0"/>
<rect x="1347" y="631" width="1" height="76" fill="#c0c0c0"/>
<rect x="1355" y="631" width="1" height="74" fill="#c0c0c0"/>
<rect x="1363" y="631" width="1" height="73" fill="#c0c0c0"/>
<rect x="1371" y="631" width="1" height="71" fill="#c0c0c0"/>
<rect x="1379" y="631" width="1" height="68" fill="#c0c0c0"/>
<rect x="1387" y="631" width="1" height="63" fill="#c0c0c0"/>
<rect x="1395" y="631" width="1" height="59" fill="#c0c0c0"/>
<rect x="1403" y="631" width="1" height="52" fill="#c0c0c0"/>
<rect x="1411" y="631" width="1" height="47" fill="#c0c0c0"/>
<rect x="1419" y="631" width="1" height="42" fill="#c0c0c0"/>
</g>
<g clip-path="url(#cd)">
<polyline points="0.0,644.5 7.2,646.7 19.9,653.5 36.1,660.2 43.4,662.0 51.5,666.2 61.5,672.9 75.9,680.1 90.4,684.6 104.8,689.7 115.7,691.5 133.7,689.2 155.4,685.5 177.1,681.9 184.3,680.1 198.8,678.8 216.9,675.6 236.0,674.5 246.8,674.7 250.5,675.6 266.7,676.5 284.8,677.4 308.3,675.2 313.7,672.9 326.4,672.3 346.2,673.4 355.3,676.5 362.5,680.1 373.4,687.3 386.0,697.3 398.7,709.0 409.5,718.1 420.3,725.8 434.8,731.6 443.8,734.3 460.1,735.6 469.1,732.5 476.0,728.9 488.3,724.0 508.1,716.3 522.6,711.4 547.9,704.5 566.0,697.3 584.0,690.4 602.1,683.7 616.6,681.4 631.0,677.4 643.7,674.7 663.6,663.8 685.3,651.2 699.7,645.8 712.0,642.2 722.5,641.3 735.1,640.5 749.6,642.2 762.2,640.9 776.7,634.0 787.5,626.8 798.4,618.7 811.0,609.6 825.5,600.6 834.5,597.0 849.0,595.2 858.0,597.0 870.7,603.3 888.7,612.3 901.4,619.9 915.8,626.8 924.9,631.3 935.7,634.0 948.0,637.3 954.8,641.3 967.5,644.9 980.1,647.6 991.0,651.2 1003.6,654.8 1016.3,657.2 1027.1,655.7 1041.6,652.1 1056.0,645.8 1070.5,641.6 1097.6,641.6 1115.7,643.4 1135.6,641.6 1148.2,639.5 1160.9,634.4 1171.7,631.9 1184.0,631.3 1198.5,631.6 1217.0,633.8 1239.1,639.0 1244.7,641.7 1257.6,650.1 1272.4,661.1 1290.9,677.0 1309.3,690.0 1327.8,698.1 1338.9,700.9 1355.5,704.6 1383.2,701.8 1405.4,697.7 1419.0,690.6" fill="none" stroke="#ff0000" stroke-width="1" stroke-dasharray="3 3" shape-rendering="crispEdges"/>
</g>
<g shape-rendering="crispEdges">
<line x1="0" y1="785.5" x2="1685" y2="785.5" stroke="#c0c0c0" stroke-width="1" stroke-dasharray="3 3"/>
<line x1="0" y1="836.5" x2="1685" y2="836.5" stroke="#c0c0c0" stroke-width="1" stroke-dasharray="3 3"/>
<line x1="0" y1="897.5" x2="1685" y2="897.5" stroke="#c0c0c0" stroke-width="1" stroke-dasharray="3 3"/>
</g>
<g clip-path="url(#cr)">
<polyline points="0.0,854.2 3.5,854.2 11.5,866.0 19.5,846.5 27.5,847.3 35.5,855.2 43.5,865.6 51.5,875.4 59.5,874.3 67.5,848.6 75.5,853.1 83.5,856.3 91.5,851.5 99.5,855.2 107.5,848.6 115.5,848.6 123.5,847.3 131.5,855.6 139.5,860.4 147.5,851.5 155.5,850.0 163.5,852.5 171.5,851.1 179.5,842.3 187.5,850.0 195.5,853.1 203.5,854.2 211.5,855.2 219.5,855.2 227.5,862.5 235.5,859.4 243.5,868.1 251.5,859.8 259.5,856.3 267.5,858.3 275.5,853.6 283.5,859.0 291.5,843.2 299.5,839.6 307.5,856.3 315.5,856.3 323.5,854.2 331.5,866.7 339.5,871.4 347.5,877.0 355.5,881.2 363.5,882.2 371.5,883.9 379.5,886.0 387.5,890.6 395.5,894.3 403.5,876.4 411.5,876.4 419.5,863.5 427.5,869.8 435.5,876.4 443.5,870.2 451.5,861.0 459.5,862.5 467.5,854.2 475.5,849.4 483.5,859.0 491.5,862.5 499.5,863.5 507.5,864.6 515.5,867.7 523.5,873.3 531.5,841.7 539.5,854.2 547.5,843.2 555.5,844.4 563.5,844.4 571.5,850.0 579.5,851.5 587.5,847.3 595.5,855.2 603.5,857.3 611.5,856.3 619.5,841.7 627.5,838.2 635.5,841.7 643.5,836.1 651.5,831.9 659.5,826.5 667.5,823.4 675.5,837.6 683.5,842.3 691.5,843.2 699.5,845.2 707.5,845.9 715.5,845.2 723.5,839.6 731.5,845.9 739.5,840.3 747.5,836.9 755.5,823.6 763.5,813.2 771.5,806.4 779.5,803.3 787.5,800.1 795.5,801.2 803.5,816.1 811.5,830.3 819.5,826.1 827.5,831.9 835.5,828.2 843.5,836.5 851.5,842.3 859.5,836.1 867.5,837.6 875.5,836.9 883.5,854.2 891.5,853.1 899.5,856.3 907.5,838.2 915.5,842.3 923.5,839.6 931.5,838.2 939.5,838.2 947.5,850.0 955.5,858.3 963.5,859.4 971.5,854.8 979.5,860.4 987.5,860.4 995.5,848.6 1003.5,844.8 1011.5,839.6 1019.5,827.2 1027.5,822.4 1035.5,822.0 1043.5,818.2 1051.5,842.1 1059.5,840.4 1067.5,854.3 1075.5,863.5 1083.5,864.2 1091.5,832.4 1099.5,829.6 1107.5,826.1 1115.5,830.5 1123.5,833.5 1131.5,836.5 1139.5,835.4 1147.5,838.6 1155.5,836.5 1163.5,838.6 1171.5,837.0 1179.5,840.4 1187.5,834.2 1195.5,838.8 1203.5,846.7 1211.5,851.3 1219.5,855.9 1227.5,857.3 1235.5,842.1 1243.5,862.4 1251.5,869.3 1259.5,873.9 1267.5,875.1 1275.5,870.5 1283.5,872.1 1291.5,875.8 1299.5,872.3 1307.5,877.4 1315.5,864.2 1323.5,866.5 1331.5,869.3 1339.5,870.9 1347.5,871.2 1355.5,872.1 1363.5,874.4 1371.5,865.2 1379.5,865.2 1387.5,856.6 1395.5,856.6 1403.5,846.2 1411.5,847.4 1419.5,848.5" fill="none" stroke="#1e90ff" stroke-width="1" shape-rendering="crispEdges"/>
</g>
<g shape-rendering="crispEdges">
<rect x="0" y="22" width="1686" height="1" fill="#000"/>
<rect x="1685" y="22" width="1" height="902" fill="#000"/>
<rect x="0" y="575" width="1686" height="1" fill="#000"/>
<rect x="0" y="577" width="1686" height="1" fill="#000"/>
<rect x="0" y="747" width="1686" height="1" fill="#000"/>
<rect x="0" y="749" width="1686" height="1" fill="#000"/>
<rect x="0" y="923" width="1686" height="1" fill="#000"/>
<rect x="1731" y="19" width="1" height="922" fill="#c8c8c8"/>
</g>
<g font-family='"Liberation Sans", sans-serif' font-size="9.2" fill="#000">
<rect x="1686" y="44" width="3" height="1" fill="#000" shape-rendering="crispEdges"/>
<text x="1691" y="47.3">0.96580</text>
<rect x="1686" y="77" width="3" height="1" fill="#000" shape-rendering="crispEdges"/>
<text x="1691" y="80.3">0.96040</text>
<rect x="1686" y="110" width="3" height="1" fill="#000" shape-rendering="crispEdges"/>
<text x="1691" y="113.3">0.95515</text>
<rect x="1686" y="143" width="3" height="1" fill="#000" shape-rendering="crispEdges"/>
<text x="1691" y="146.3">0.94975</text>
<rect x="1686" y="176" width="3" height="1" fill="#000" shape-rendering="crispEdges"/>
<text x="1691" y="179.3">0.94450</text>
<rect x="1686" y="209" width="3" height="1" fill="#000" shape-rendering="crispEdges"/>
<text x="1691" y="212.3">0.93910</text>
<rect x="1686" y="242" width="3" height="1" fill="#000" shape-rendering="crispEdges"/>
<text x="1691" y="245.3">0.93370</text>
<rect x="1686" y="275" width="3" height="1" fill="#000" shape-rendering="crispEdges"/>
<text x="1691" y="278.3">0.92845</text>
<rect x="1686" y="308" width="3" height="1" fill="#000" shape-rendering="crispEdges"/>
<text x="1691" y="311.3">0.92305</text>
<rect x="1686" y="341" width="3" height="1" fill="#000" shape-rendering="crispEdges"/>
<text x="1691" y="344.3">0.91780</text>
<rect x="1686" y="374" width="3" height="1" fill="#000" shape-rendering="crispEdges"/>
<text x="1691" y="377.3">0.91240</text>
<rect x="1686" y="407" width="3" height="1" fill="#000" shape-rendering="crispEdges"/>
<text x="1691" y="410.3">0.90715</text>
<rect x="1686" y="440" width="3" height="1" fill="#000" shape-rendering="crispEdges"/>
<text x="1691" y="443.3">0.90175</text>
<rect x="1686" y="473" width="3" height="1" fill="#000" shape-rendering="crispEdges"/>
<text x="1691" y="476.3">0.89635</text>
<rect x="1686" y="506" width="3" height="1" fill="#000" shape-rendering="crispEdges"/>
<text x="1691" y="509.3">0.89110</text>
<rect x="1686" y="572" width="3" height="1" fill="#000" shape-rendering="crispEdges"/>
<text x="1691" y="575.3">0.88045</text>
</g>
<g font-family='"Liberation Sans", sans-serif' font-size="9.2" fill="#fff" shape-rendering="crispEdges">
<rect x="1687" y="512" width="41" height="1" fill="#000"/>
<rect x="1687" y="480" width="41" height="11" fill="#ff0000"/>
<text x="1691" y="489.0">0.89427</text>
<rect x="1687" y="496" width="41" height="11" fill="#ff0000"/>
<text x="1691" y="505.0">0.89168</text>
<rect x="1687" y="513" width="41" height="11" fill="#ffa500"/>
<text x="1691" y="522.0">0.88892</text>
<rect x="1687" y="533" width="41" height="11" fill="#0000ff"/>
<text x="1691" y="542.0">0.88581</text>
<rect x="1687" y="548" width="41" height="11" fill="#0000ff"/>
<text x="1691" y="557.0">0.88339</text>
</g>
<g font-family='"Liberation Sans", sans-serif' font-size="9.5" fill="#000">
<rect x="1686" y="579" width="3" height="1" fill="#000" shape-rendering="crispEdges"/>
<text x="1689" y="588.0">0.004351</text>
<rect x="1686" y="631" width="3" height="1" fill="#000" shape-rendering="crispEdges"/>
<text x="1689" y="634.3">0.00</text>
<rect x="1686" y="741" width="3" height="1" fill="#000" shape-rendering="crispEdges"/>
<text x="1689" y="743.5">-0.009504</text>
<rect x="1686" y="751" width="2" height="1" fill="#000" shape-rendering="crispEdges"/>
<text x="1689" y="760.0">100</text>
<text x="1688" y="788.5">80</text>
<text x="1688" y="839.5">50</text>
<text x="1688" y="900.5">15</text>
<text x="1689" y="919.5">0</text>
</g>
<g font-family='"Liberation Sans", sans-serif' font-size="9.1" fill="#000">
<text x="1.5" y="935.5">Jun 2020</text>
<rect x="59" y="924" width="1" height="3" fill="#000" shape-rendering="crispEdges"/>
<text x="58.3" y="935.5">11 Jun 2020</text>
<rect x="123" y="924" width="1" height="3" fill="#000" shape-rendering="crispEdges"/>
<text x="122.3" y="935.5">21 Jun 2020</text>
<rect x="187" y="924" width="1" height="3" fill="#000" shape-rendering="crispEdges"/>
<text x="186.3" y="935.5">30 Jun 2020</text>
<rect x="251" y="924" width="1" height="3" fill="#000" shape-rendering="crispEdges"/>
<text x="250.3" y="935.5">9 Jul 2020</text>
<rect x="315" y="924" width="1" height="3" fill="#000" shape-rendering="crispEdges"/>
<text x="314.3" y="935.5">19 Jul 2020</text>
<rect x="379" y="924" width="1" height="3" fill="#000" shape-rendering="crispEdges"/>
<text x="378.3" y="935.5">28 Jul 2020</text>
<rect x="443" y="924" width="1" height="3" fill="#000" shape-rendering="crispEdges"/>
<text x="442.3" y="935.5">6 Aug 2020</text>
<rect x="507" y="924" width="1" height="3" fill="#000" shape-rendering="crispEdges"/>
<text x="506.3" y="935.5">16 Aug 2020</text>
<rect x="571" y="924" width="1" height="3" fill="#000" shape-rendering="crispEdges"/>
<text x="570.3" y="935.5">25 Aug 2020</text>
<rect x="635" y="924" width="1" height="3" fill="#000" shape-rendering="crispEdges"/>
<text x="634.3" y="935.5">3 Sep 2020</text>
<rect x="699" y="924" width="1" height="3" fill="#000" shape-rendering="crispEdges"/>
<text x="698.3" y="935.5">13 Sep 2020</text>
<rect x="763" y="924" width="1" height="3" fill="#000" shape-rendering="crispEdges"/>
<text x="762.3" y="935.5">22 Sep 2020</text>
<rect x="827" y="924" width="1" height="3" fill="#000" shape-rendering="crispEdges"/>
<text x="826.3" y="935.5">1 Oct 2020</text>
<rect x="891" y="924" width="1" height="3" fill="#000" shape-rendering="crispEdges"/>
<text x="890.3" y="935.5">11 Oct 2020</text>
<rect x="955" y="924" width="1" height="3" fill="#000" shape-rendering="crispEdges"/>
<text x="954.3" y="935.5">20 Oct 2020</text>
<rect x="1019" y="924" width="1" height="3" fill="#000" shape-rendering="crispEdges"/>
<text x="1018.3" y="935.5">29 Oct 2020</text>
<rect x="1083" y="924" width="1" height="3" fill="#000" shape-rendering="crispEdges"/>
<text x="1082.3" y="935.5">8 Nov 2020</text>
<rect x="1147" y="924" width="1" height="3" fill="#000" shape-rendering="crispEdges"/>
<text x="1146.3" y="935.5">17 Nov 2020</text>
<rect x="1211" y="924" width="1" height="3" fill="#000" shape-rendering="crispEdges"/>
<text x="1210.3" y="935.5">26 Nov 2020</text>
<rect x="1275" y="924" width="1" height="3" fill="#000" shape-rendering="crispEdges"/>
<text x="1274.3" y="935.5">6 Dec 2020</text>
<rect x="1339" y="924" width="1" height="3" fill="#000" shape-rendering="crispEdges"/>
<text x="1338.3" y="935.5">15 Dec 2020</text>
<rect x="1403" y="924" width="1" height="3" fill="#000" shape-rendering="crispEdges"/>
<text x="1402.3" y="935.5">24 Dec 2020</text>
</g>
<text x="0" y="590" font-family='"Liberation Sans", sans-serif' font-size="9.5" fill="#000" textLength="152.5" lengthAdjust="spacingAndGlyphs">MACD(12,26,9) -0.003391 -0.004951</text>
<text x="0" y="762" font-family='"Liberation Sans", sans-serif' font-size="9.5" fill="#000" textLength="67" lengthAdjust="spacingAndGlyphs">RSI(14) 43.1726</text>
<text x="10.5" y="34" font-family='"Liberation Sans", sans-serif' font-size="10" fill="#000" textLength="67" lengthAdjust="spacingAndGlyphs">USDCHF-,Daily</text>
<text x="84" y="34" font-family='"Liberation Sans", sans-serif' font-size="10" fill="#000" textLength="140.5" lengthAdjust="spacingAndGlyphs">0.88940 0.89179 0.88754 0.88926</text>
<path d="M-1,33 L2.5,29 L6,33 Z" fill="#000"/>
<path d="M1426,23 L1435,23 L1430.5,28 Z" fill="#c0c0c0"/>
<g shape-rendering="crispEdges">
<rect x="1223" y="521" width="255" height="8" fill="#00ff00"/>
<path d="M1464,521 L1464,518.5 L1466.5,517.5 L1471,521 Z" fill="#00ff00"/>
</g>
<g stroke="#ff0000" stroke-width="3.5" fill="#ff0000" stroke-linecap="butt">
<line x1="1211.5" y1="376" x2="1357" y2="557.5"/>
<path d="M1360.5,563 L1349.5,556.5 L1352,554.5 L1355,556 L1357.5,550.5 Z" stroke-width="1" stroke-linejoin="miter"/>
<line x1="1359" y1="563.5" x2="1444" y2="501.5"/>
<path d="M1450.5,496 L1438.5,498 L1443.5,506 Z" stroke-width="2" stroke-linejoin="round"/>
</g>
<g stroke="#ff0000" stroke-width="2.8" fill="#ff0000" stroke-linecap="butt">
<line x1="1215" y1="645.5" x2="1333" y2="707.5"/>
<path d="M1338.8,711.5 L1326.5,711 L1329,708 L1331.5,708.5 L1331,703 Z" stroke-width="1"/>
<line x1="1338" y1="711" x2="1479" y2="679"/>
<path d="M1486.5,676.5 L1475.5,673.5 L1477.5,676 L1478,681 L1476.5,684 Z" stroke-width="1"/>
</g>
<g font-family='"Liberation Sans", sans-serif' fill="#ff0000">
<rect x="716.5" y="258.5" width="61" height="18" fill="#fff" stroke="#ff0000" stroke-width="1"/>
<text x="718" y="274" font-size="17" textLength="58" lengthAdjust="spacingAndGlyphs">0.92977</text>
<path d="M781,266.5 L787.5,266.5 L787.5,268" stroke="#ff0000" fill="none" stroke-width="1"/>
<rect x="778.5" y="265.5" width="2" height="2" fill="#fff" stroke="#ff0000" stroke-width="1"/>
<rect x="1118.5" y="507.5" width="73" height="24" fill="#fff" stroke="#ff0000" stroke-width="1"/>
<text x="1119.5" y="528.3" font-size="24" textLength="70.5" lengthAdjust="spacingAndGlyphs">0.88892</text>
<rect x="1108" y="519" width="10" height="1" fill="#ff0000"/>
<rect x="1284.5" y="553.5" width="61" height="18" fill="#fff" stroke="#ff0000" stroke-width="1"/>
<text x="1286" y="569" font-size="17" textLength="58" lengthAdjust="spacingAndGlyphs">0.88210</text>
<path d="M1349,561.5 L1356,561.5" stroke="#ff0000" fill="none" stroke-width="1"/>
<rect x="1346.5" y="560.5" width="2" height="2" fill="#fff" stroke="#ff0000" stroke-width="1"/>
</g>
<rect x="1516.5" y="516.5" width="110" height="24" fill="none" stroke="#303030" stroke-width="1"/>
<text x="1518" y="534.3" font-family='"Liberation Sans", sans-serif' font-size="19" fill="#00ff00" textLength="106" lengthAdjust="spacingAndGlyphs">多空转折点</text>
</svg>
<div id="tb"></div><div id="tb2"></div>
<svg width="1732" height="19" viewBox="0 0 1732 19" style="position:absolute;left:0;top:0" font-family="'Liberation Sans', sans-serif">
<g shape-rendering="crispEdges">
<!-- doc icon -->
<rect x="-6" y="-3" width="14" height="16" fill="#fff" stroke="#3a6fc8"/>
<rect x="-4" y="2" width="10" height="1" fill="#7a9fdc"/><rect x="-4" y="5" width="10" height="1" fill="#7a9fdc"/><rect x="-4" y="8" width="10" height="1" fill="#7a9fdc"/>
<!-- magnifier doc -->
<rect x="21.5" y="-3.5" width="11" height="14" fill="#f8f8f8" stroke="#9a9a9a"/>
<rect x="46" y="1" width="1" height="14" fill="#c0c0c0"/>
<rect x="47" y="1" width="1" height="14" fill="#ffffff"/>
<!-- new order icon -->
<rect x="56.5" y="-3.5" width="11" height="12" fill="#fafafa" stroke="#707070"/>
<rect x="58" y="1" width="6" height="1" fill="#909090"/><rect x="58" y="4" width="6" height="1" fill="#909090"/>
</g>
<circle cx="29" cy="6" r="4.5" fill="#d8e8f8" stroke="#6a8ab0" stroke-width="1.3"/>
<line x1="32" y1="9" x2="37" y2="14" stroke="#c89a30" stroke-width="2.2"/>
<path d="M63,8 h9 M67.5,3.5 v9" stroke="#1aa51a" stroke-width="3.2"/>
<text x="74" y="8.6" font-size="12" fill="#000" stroke="#000" stroke-width="0.25">新订单</text>
<!-- gold bars -->
<path d="M123,6 L130,0 L139,6 L132,13 Z" fill="#e0b040" stroke="#a07010" stroke-width="1"/>
<!-- cloud -->
<rect x="153" y="-2" width="8" height="8" fill="#6a9ad8"/>
<ellipse cx="159" cy="10" rx="8" ry="3.5" fill="#e8eef8" stroke="#7a8aa8" stroke-width="1"/>
<!-- signal -->
<circle cx="186" cy="7" r="7" fill="none" stroke="#8ab0d8" stroke-width="1.3"/>
<circle cx="186" cy="7" r="4" fill="none" stroke="#5a90c8" stroke-width="1.3"/>
<circle cx="186" cy="7" r="1.6" fill="#2060b0"/>
<path d="M189,4 A5,5 0 0 1 191,12" stroke="#3aa83a" stroke-width="1.6" fill="none"/>
<!-- auto trade -->
<ellipse cx="213" cy="4" rx="7" ry="4" fill="#7ab0e0"/>
<path d="M206,6 L220,6 L214,14 Z" fill="#f0c040"/>
<circle cx="219" cy="11" r="4" fill="#e02020"/><rect x="217.5" y="9.5" width="3" height="3" fill="#fff"/>
<text x="228" y="8.6" font-size="12" fill="#000" stroke="#000" stroke-width="0.25">自动交易</text>
<g shape-rendering="crispEdges" fill="#b0b0b0">
<rect x="286" y="1" width="3" height="1"/><rect x="286" y="3" width="3" height="1"/><rect x="286" y="5" width="3" height="1"/><rect x="286" y="7" width="3" height="1"/><rect x="286" y="9" width="3" height="1"/><rect x="286" y="11" width="3" height="1"/><rect x="286" y="13" width="3" height="1"/>
</g>
<g shape-rendering="crispEdges">
<!-- bar chart -->
<rect x="300" y="0" width="1" height="13" fill="#505050"/><rect x="298" y="12" width="14" height="1" fill="#505050"/>
<rect x="306" y="2" width="1" height="8" fill="#2a8a2a"/><rect x="304" y="8" width="2" height="1" fill="#2a8a2a"/><rect x="307" y="3" width="2" height="1" fill="#2a8a2a"/>
<!-- pressed candle -->
<rect x="321" y="0" width="25" height="16" fill="#f8f8f8"/>
<rect x="320" y="1" width="1" height="14" fill="#c0c0c0"/>
<rect x="328" y="0" width="1" height="13" fill="#505050"/><rect x="326" y="12" width="14" height="1" fill="#505050"/>
<rect x="332" y="-2" width="4" height="9" fill="#30b030" stroke="#206020"/><rect x="334" y="7" width="1" height="3" fill="#206020"/>
<!-- line chart -->
<rect x="356" y="0" width="1" height="13" fill="#505050"/><rect x="354" y="12" width="14" height="1" fill="#505050"/>
<rect x="377" y="1" width="1" height="14" fill="#c0c0c0"/>
<!-- tile -->
<rect x="442" y="-2" width="7" height="7" fill="#30a030"/><rect x="450" y="-2" width="8" height="7" fill="#3070d0"/>
<rect x="442" y="6" width="7" height="7" fill="#3070d0"/><rect x="450" y="6" width="8" height="7" fill="#30a030"/>
<rect x="444" y="1" width="3" height="1" fill="#fff"/><rect x="452" y="1" width="4" height="1" fill="#fff"/><rect x="444" y="9" width="3" height="1" fill="#fff"/><rect x="452" y="9" width="4" height="1" fill="#fff"/>
<rect x="467" y="1" width="1" height="14" fill="#c0c0c0"/>
<rect x="480" y="0" width="1" height="13" fill="#505050"/><rect x="478" y="12" width="14" height="1" fill="#505050"/>
<rect x="500" y="1" width="1" height="14" fill="#c0c0c0"/>
<rect x="508" y="0" width="1" height="13" fill="#505050"/><rect x="506" y="12" width="14" height="1" fill="#505050"/>
<rect x="514" y="0" width="1" height="10" fill="#3060c0"/>
<rect x="529" y="1" width="1" height="14" fill="#c0c0c0"/>
<rect x="539.5" y="-3.5" width="10" height="11" fill="#fafafa" stroke="#808080"/>
</g>
<path d="M357,10 Q361,0 366,9" stroke="#2a8a2a" stroke-width="1.2" fill="none"/>
<path d="M486,3 L491,6 L486,9 Z" fill="#20a020"/>
<path d="M517,5 L514,6.5 L517,8" stroke="#d04020" stroke-width="1.2" fill="none"/>
<circle cx="393" cy="4" r="5" fill="#d8ecfc" stroke="#3a78c8" stroke-width="1.5"/>
<path d="M390,4 h6 M393,1 v6" stroke="#2a68b8" stroke-width="1.4"/>
<line x1="397" y1="8" x2="402" y2="13" stroke="#d0a040" stroke-width="2.4"/>
<circle cx="421" cy="4" r="5" fill="#d8ecfc" stroke="#3a78c8" stroke-width="1.5"/>
<path d="M418,4 h6" stroke="#2a68b8" stroke-width="1.4"/>
<line x1="425" y1="8" x2="430" y2="13" stroke="#d0a040" stroke-width="2.4"/>
<path d="M545,8 h10 M550,3 v11" stroke="#1aa51a" stroke-width="3.2"/>
<path d="M561,5 L566,5 L563.5,8 Z" fill="#202020"/>
<circle cx="584.5" cy="6" r="7.5" fill="#1a68c8"/><circle cx="584.5" cy="6" r="5.3" fill="#f4f8fc"/>
<path d="M584.5,2.5 V6 H587.5" stroke="#303030" stroke-width="1" fill="none"/>
<path d="M600,5 L605,5 L602.5,8 Z" fill="#202020"/>
<rect x="617.5" y="-1.5" width="14" height="13" fill="#fff" stroke="#3070c0" stroke-width="1"/>
<rect x="618" y="-1" width="13" height="2" fill="#5090e0"/>
<path d="M619,4 L622,3 L625,4 L629,2.5" stroke="#d04040" stroke-width="1" fill="none"/>
<path d="M619,9 L622,8 L625,9 L629,7.5" stroke="#30a030" stroke-width="1" fill="none"/>
<path d="M639,5 L644,5 L641.5,8 Z" fill="#202020"/>
<g shape-rendering="crispEdges">
<rect x="650" y="1" width="1" height="14" fill="#c0c0c0"/>
<rect x="654" y="1" width="3" height="1" fill="#b0b0b0"/><rect x="654" y="3" width="3" height="1" fill="#b0b0b0"/><rect x="654" y="5" width="3" height="1" fill="#b0b0b0"/><rect x="654" y="7" width="3" height="1" fill="#b0b0b0"/><rect x="654" y="9" width="3" height="1" fill="#b0b0b0"/><rect x="654" y="11" width="3" height="1" fill="#b0b0b0"/><rect x="654" y="13" width="3" height="1" fill="#b0b0b0"/>
<rect x="660" y="1" width="1" height="14" fill="#c0c0c0"/>
<rect x="661" y="0" width="24" height="16" fill="#f8f8f8"/>
<rect x="693" y="6" width="15" height="1" fill="#505050"/><rect x="700" y="0" width="1" height="13" fill="#505050"/>
<rect x="717" y="1" width="1" height="14" fill="#c0c0c0"/>
<rect x="734" y="2" width="1" height="11" fill="#505050"/>
<rect x="756" y="6" width="13" height="1" fill="#505050"/>
<rect x="847" y="2" width="1" height="1" fill="#fff"/>
<g fill="#606060"><rect x="840" y="2" width="1" height="1"/><rect x="842" y="2" width="1" height="1"/><rect x="844" y="2" width="1" height="1"/><rect x="846" y="2" width="1" height="1"/><rect x="848" y="2" width="1" height="1"/><rect x="850" y="2" width="1" height="1"/><rect x="852" y="2" width="1" height="1"/><rect x="840" y="6" width="1" height="1"/><rect x="842" y="6" width="1" height="1"/><rect x="844" y="6" width="1" height="1"/><rect x="846" y="6" width="1" height="1"/><rect x="848" y="6" width="1" height="1"/><rect x="850" y="6" width="1" height="1"/><rect x="852" y="6" width="1" height="1"/><rect x="840" y="10" width="1" height="1"/><rect x="842" y="10" width="1" height="1"/><rect x="844" y="10" width="1" height="1"/><rect x="846" y="10" width="1" height="1"/><rect x="848" y="10" width="1" height="1"/></g>
<rect x="956" y="1" width="1" height="14" fill="#c0c0c0"/>
<rect x="960" y="1" width="2" height="1" fill="#b0b0b0"/><rect x="960" y="3" width="2" height="1" fill="#b0b0b0"/><rect x="960" y="5" width="2" height="1" fill="#b0b0b0"/><rect x="960" y="7" width="2" height="1" fill="#b0b0b0"/><rect x="960" y="9" width="2" height="1" fill="#b0b0b0"/><rect x="960" y="11" width="2" height="1" fill="#b0b0b0"/>
<rect x="1134" y="0" width="26" height="16" fill="#f8f8f8"/>
<rect x="1134" y="1" width="1" height="14" fill="#c8c8c8"/>
<rect x="1217" y="1" width="1" height="14" fill="#c0c0c0"/>
</g>
<path d="M668,-1 L668,11 L671,8 L674,13 L676,12 L673,7 L677,7 Z" fill="#404040"/>
<line x1="785" y1="13" x2="797" y2="1" stroke="#606060" stroke-width="1"/>
<path d="M812,12 L824,0 M815,12 L827,0 M811,6 L826,6 M811,9 L824,9" stroke="#606060" stroke-width="1"/>
<text x="821" y="14" font-size="7" fill="#404040">E</text>
<text x="850" y="15" font-size="7" fill="#404040">F</text>
<text x="871" y="12" font-size="12" font-weight="bold" fill="#606060">A</text>
<rect x="897.5" y="0.5" width="11" height="12" fill="none" stroke="#707070" stroke-dasharray="1 1" shape-rendering="crispEdges"/>
<text x="899" y="11" font-size="11" font-weight="bold" fill="#606060">T</text>
<path d="M925,3 L929,0 L931,3 Z M927,3 L931,8 M933,8 L938,10 L933,13 Z" fill="#505050" stroke="#505050" stroke-width="1"/>
<path d="M945,5 L950,5 L947.5,8 Z" fill="#202020"/>
<g font-size="9.8" fill="#505050">
<text x="972" y="10">M1</text><text x="999" y="10">M5</text><text x="1026" y="10">M15</text><text x="1053" y="10">M30</text><text x="1085" y="10">H1</text><text x="1111" y="10">H4</text><text x="1140" y="10">D1</text><text x="1168" y="10">W1</text><text x="1194" y="10">MN</text>
</g>
<!-- search -->
<circle cx="1687.5" cy="3.8" r="4" fill="none" stroke="#2a5ad0" stroke-width="1.6"/>
<line x1="1684.5" y1="7" x2="1680" y2="11" stroke="#2a5ad0" stroke-width="2.2"/>
<!-- chat -->
<ellipse cx="1709" cy="9" rx="5.5" ry="4" fill="#e8e8f0" stroke="#b8b8c8" stroke-width="1"/>
<circle cx="1718" cy="3.5" r="7" fill="#e03a20"/>
<text x="1715.5" y="7.5" font-size="10" font-weight="bold" fill="#fff" font-family="'Liberation Serif', serif">1</text>
</svg>

<div style="position:absolute;left:0;top:40px;width:219px;height:68px;background:#fff"></div>
<div style="position:absolute;left:0;top:42px;width:50px;height:24px;background:linear-gradient(#5858ff,#3838e8);border-top:1px solid #0000a0;box-sizing:border-box"></div>
<div style="position:absolute;left:2px;top:65px;width:44px;height:1px;background:#00008a"></div>
<div style="position:absolute;left:2px;top:66px;width:44px;height:1px;background:#7070ff"></div>
<div style="position:absolute;left:165px;top:42px;width:52px;height:24px;background:linear-gradient(#5858ff,#3838e8);border-top:1px solid #0000a0;box-sizing:border-box"></div>
<div style="position:absolute;left:169px;top:65px;width:44px;height:1px;background:#00008a"></div>
<div style="position:absolute;left:169px;top:66px;width:44px;height:1px;background:#7070ff"></div>
<div style="position:absolute;left:50px;top:42px;width:115px;height:24px;background:#fff"></div>
<div style="position:absolute;left:52px;top:42px;width:111px;height:22px;background:#fff;border:1px solid #a8a8a8;box-sizing:border-box"></div>
<div style="position:absolute;left:53px;top:43px;width:20px;height:20px;background:linear-gradient(#f2f2f2 0%,#e6e6e6 45%,#d6d6d6 50%,#d0d0d0 100%);border:1px solid #c8c8c8;box-sizing:border-box"></div>
<div style="position:absolute;left:73px;top:43px;width:1px;height:20px;background:#b0b0b0"></div>
<div style="position:absolute;left:141px;top:43px;width:1px;height:20px;background:#b0b0b0"></div>
<div style="position:absolute;left:142px;top:43px;width:20px;height:20px;background:linear-gradient(#f2f2f2 0%,#e6e6e6 45%,#d6d6d6 50%,#d0d0d0 100%);border:1px solid #c8c8c8;box-sizing:border-box"></div>
<div style="position:absolute;left:0;top:66px;width:107px;height:40px;background:linear-gradient(#3a3af0,#1a1ad0 50%,#0000a8);"></div>
<div style="position:absolute;left:109px;top:66px;width:108px;height:40px;background:linear-gradient(#3a3af0,#1a1ad0 50%,#0000a8);"></div>
<div style="position:absolute;left:107px;top:66px;width:2px;height:40px;background:#e8e8ff"></div>
<svg width="220" height="70" viewBox="0 42 220 70" style="position:absolute;left:0;top:42px" font-family="'Liberation Sans', sans-serif">
<path d="M60,51 L65,51 L62.5,54 Z" fill="#5a6aa8"/>
<path d="M149.5,54 L154.5,54 L152,51 Z" fill="#5a6aa8"/>
<text x="137.5" y="57" font-size="12" fill="#000" text-anchor="end">1.00</text>
<text x="10.8" y="58" font-size="12.3" fill="#f0f0ff" textLength="25.3" lengthAdjust="spacingAndGlyphs">SELL</text>
<text x="178.7" y="58" font-size="12.3" fill="#f0f0ff" textLength="23.4" lengthAdjust="spacingAndGlyphs">BUY</text>
<text x="18" y="97" font-size="12.5" font-weight="bold" fill="#fff">0.88</text>
<text x="46" y="97" font-size="33.5" fill="#fff" textLength="33.3" lengthAdjust="spacingAndGlyphs">92</text>
<text x="85" y="80.5" font-size="12" font-weight="bold" fill="#fff">6</text>
<text x="127.5" y="97" font-size="12.5" font-weight="bold" fill="#fff">0.88</text>
<text x="157" y="97" font-size="33.5" fill="#fff" textLength="34" lengthAdjust="spacingAndGlyphs">94</text>
<text x="196" y="80.5" font-size="12" font-weight="bold" fill="#fff">6</text>
</svg>

</body></html>
